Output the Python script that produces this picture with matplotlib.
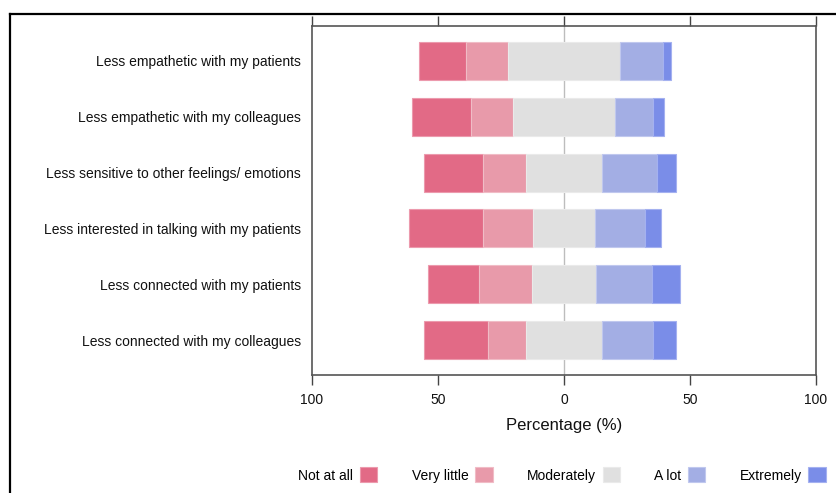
import matplotlib
matplotlib.use("Agg")
import matplotlib.pyplot as plt
from matplotlib.lines import Line2D
import numpy as np

plt.rcParams['font.family'] = ['Liberation Sans', 'DejaVu Sans']

# Likert responses (%), rows top to bottom
items = ["Less empathetic with my patients",
         "Less empathetic with my colleagues",
         "Less sensitive to other feelings/ emotions",
         "Less interested in talking with my patients",
         "Less connected with my patients",
         "Less connected with my colleagues"]
levels = ["Not at all", "Very little", "Moderately", "A lot", "Extremely"]
not_at_all = [18.4, 23.4, 23.5, 29.4, 20.5, 25.4]
very_little = [16.8, 16.9, 16.9, 19.9, 20.8, 14.9]
moderately = [44.4, 40.4, 30.4, 24.3, 25.5, 30.4]
a_lot = [17.0, 15.1, 21.9, 19.9, 22.0, 20.0]
extremely = [3.4, 4.2, 7.3, 6.5, 11.2, 9.3]

colors = ["#E26A86", "#E89AAA", "#E0E0E0", "#A3AEE4", "#7A8DE8"]
edges = ["#EC9AAD", "#F0BCC6", "#EAEAEA", "#C0C8EE", "#A4B1F0"]

W, H = 837, 493
fig = plt.figure(figsize=(W / 100, H / 100), dpi=100)
ax = fig.add_axes([312 / W, 1 - 375 / H, (816 - 312) / W, (375 - 26) / H])

data = np.array([not_at_all, very_little, moderately, a_lot, extremely])
y = np.arange(len(items))
start = -(data[0] + data[1] + data[2] / 2)

ax.axvline(0, color="#BDBDBD", lw=1, zorder=0)
left = start.copy()
for i, lev in enumerate(levels):
    ax.barh(y, data[i], left=left, height=0.68, color=colors[i],
            edgecolor=edges[i], linewidth=0.8, label=lev, zorder=2)
    left = left + data[i]

ax.set_xlim(-100, 100)
ax.set_ylim(len(items) - 0.38, -0.62)
ax.set_yticks(y)
ax.set_yticklabels(items, fontsize=10, color="#111111")
ax.tick_params(axis="y", length=0, pad=8)
xt = [-100, -50, 0, 50, 100]
ax.set_xticks(xt)
ax.set_xticklabels([str(abs(v)) for v in xt], fontsize=10, color="#111111")
ax.tick_params(axis="x", which="both", direction="out", length=7, width=1,
               color="#444444", top=True, labeltop=False, pad=6)
for s in ax.spines.values():
    s.set_color("#555555")
    s.set_linewidth(1.2)
ax.set_xlabel("Percentage (%)", fontsize=12, labelpad=8, color="#111111")

ax.legend(loc="center", bbox_to_anchor=(562 / W, 1 - 475 / H),
          bbox_transform=fig.transFigure, ncol=5, frameon=False,
          markerfirst=False, fontsize=10, handlelength=1.25, handleheight=1.25,
          columnspacing=2.45, handletextpad=0.5)

# outer frame (cropped at right/bottom)
fig.add_artist(Line2D([10 / W, 10 / W], [1 - 14 / H, 0], color="black",
                      lw=1.6, transform=fig.transFigure))
fig.add_artist(Line2D([10 / W, 1], [1 - 14 / H, 1 - 14 / H], color="black",
                      lw=1.6, transform=fig.transFigure))

fig.savefig("out.png", dpi=100)
